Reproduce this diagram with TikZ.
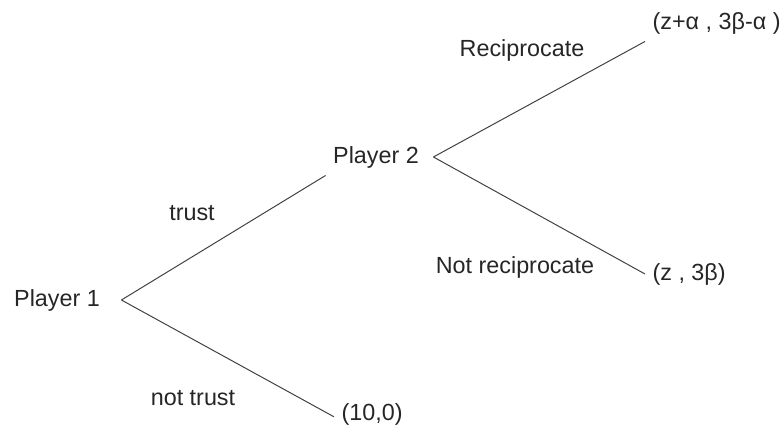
\documentclass[tikz,border=0pt]{standalone}
\usepackage{fontspec}
\setmainfont{Liberation Sans}
\usetikzlibrary{positioning}

\begin{document}
\begin{tikzpicture}[x=0.025cm, y=-0.025cm, thick, font=\fontsize{16.6}{20}\selectfont,
		main/.style = {text=black!85, inner sep=5pt},
		edge/.style = {draw=black!75, line width=0.7pt}]
		\useasboundingbox (0,0) rectangle (783,426);
		\node[main] (p1) at (57, 300) {Player 1};
		\node[main] (p2) at (376, 157) {Player 2};
		\node[main, anchor=west] (r1) at (645, 23) {(z+α , 3β-α )};
		\node[main, anchor=west] (r2) at (645, 274) {(z , 3β)};
		\node[main, anchor=west] (r3) at (334, 414) {(10,0)};
		\node[main] (l1) at (192, 213) {trust};
		\node[main] (l2) at (193, 398) {not trust};
		\node[main] (l3) at (522, 50) {Reciprocate};
		\node[main] (l4) at (515, 267) {Not reciprocate};
		\draw[edge] (p1.east) ++(14,0) coordinate (a) -- (p2.south west);
		\draw[edge] (a) -- ([yshift=-2]r3.west);
		\draw[edge] (p2.east) ++(7,0) coordinate (b) -- (r1.south west);
		\draw[edge] (b) -- (r2.west);
	\end{tikzpicture}
\end{document}
